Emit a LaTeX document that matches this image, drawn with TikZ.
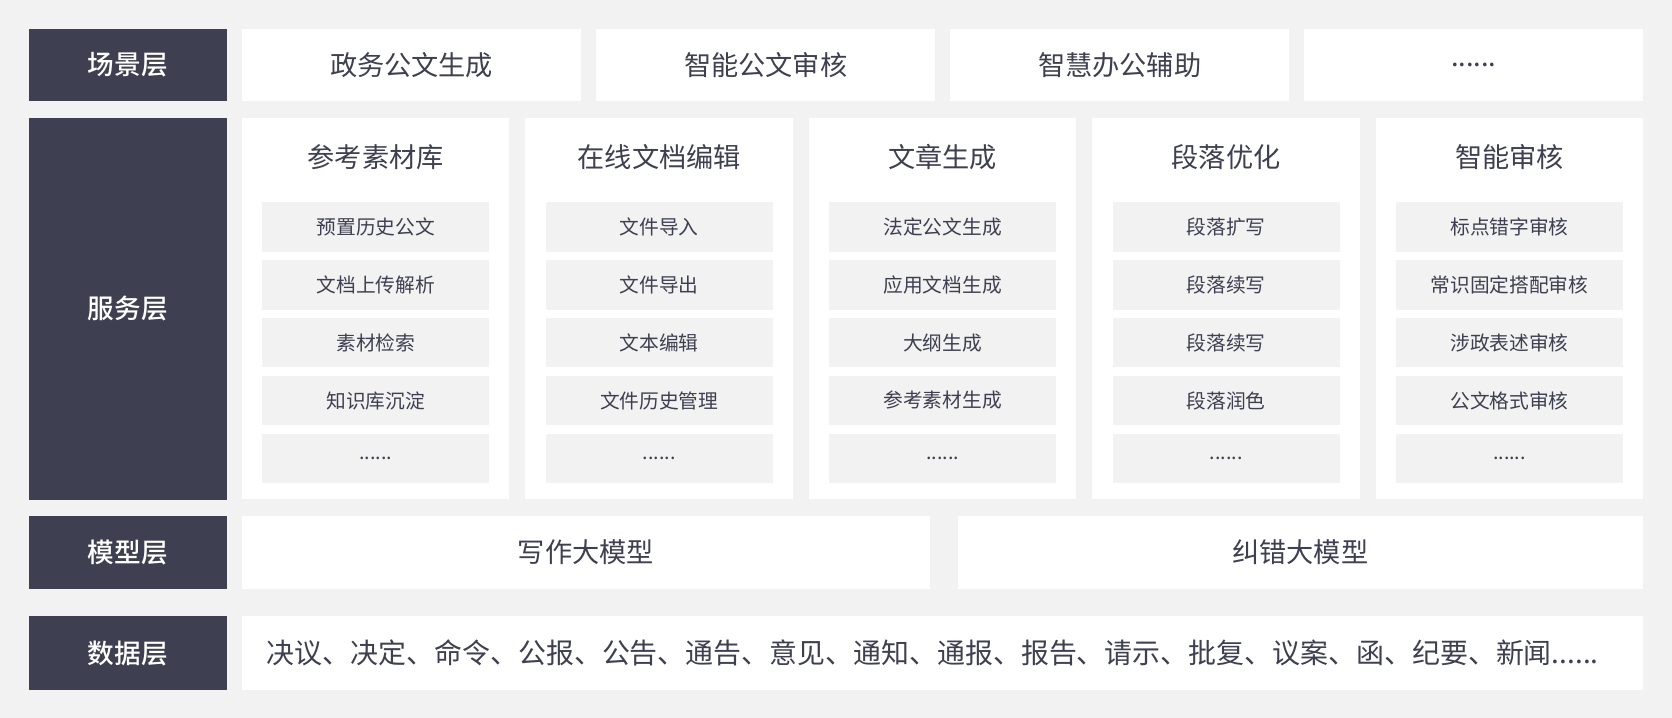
\documentclass[tikz,border=0pt]{standalone}
\usepackage{fontspec}
\setmainfont{Noto Sans CJK SC}
\newfontfamily\medfont{Noto Sans CJK SC}[UprightFont={* Medium}]
\definecolor{dark}{HTML}{3E3F50}
\definecolor{bg}{HTML}{F2F2F2}
\definecolor{txt}{HTML}{3E3F50}
\newcommand{\sixdots}{......}
\begin{document}
\begin{tikzpicture}[x=1pt,y=-1pt,
  box/.style={anchor=north west, inner sep=0pt, outer sep=0pt, draw=none},
  lab/.style={box, fill=dark, text=white, minimum width=186pt, font=\medfont\fontsize{25}{25}\selectfont},
  wbox/.style={box, fill=white, text=txt, font=\fontsize{25.5}{25.5}\selectfont},
  colbox/.style={box, fill=white, minimum width=250.8pt, minimum height=357pt},
  coltitle/.style={text=txt, inner sep=0pt, font=\fontsize{25.5}{25.5}\selectfont},
  subitem/.style={box, fill=bg, text=txt, minimum width=212.8pt, minimum height=46.6pt, font=\fontsize{18.5}{18.5}\selectfont}
]
\useasboundingbox[fill=bg] (0,0) rectangle (1568,673);

% labels
\node[lab, minimum height=68pt] (lab1) at (27,27) {场景层};
\node[lab, minimum height=357.5pt] (lab2) at (27,111) {服务层};
\node[lab, minimum height=68.5pt] (lab3) at (27,484) {模型层};
\node[lab, minimum height=69pt] (lab4) at (27,578) {数据层};

% scene layer
\foreach \t [count=\i] in {政务公文生成,智能公文审核,智慧办公辅助,\sixdots}{
  \node[wbox, minimum width=318pt, minimum height=68pt] (sc\i) at ({227+(\i-1)*332},27) {\t};
}

% service layer columns
\newcommand{\svccol}[3]{%
  \node[colbox] (col#1) at ({227+(#1-1)*265.8},111) {};
  \node[coltitle] (title#1) at ({227+(#1-1)*265.8+125.4},147) {#2};
  \foreach \s [count=\j] in {#3}{
    \node[subitem] (col#1-\j) at ({227+(#1-1)*265.8+19},{189.4+(\j-1)*54.3}) {\s};
  }%
}
\svccol{1}{参考素材库}{预置历史公文,文档上传解析,素材检索,知识库沉淀,\sixdots}
\svccol{2}{在线文档编辑}{文件导入,文件导出,文本编辑,文件历史管理,\sixdots}
\svccol{3}{文章生成}{法定公文生成,应用文档生成,大纲生成,参考素材生成,\sixdots}
\svccol{4}{段落优化}{段落扩写,段落续写,段落续写,段落润色,\sixdots}
\svccol{5}{智能审核}{标点错字审核,常识固定搭配审核,涉政表述审核,公文格式审核,\sixdots}

% model layer
\node[wbox, minimum width=645pt, minimum height=68.5pt] (m1) at (227,484) {写作大模型};
\node[wbox, minimum width=643pt, minimum height=68.5pt] (m2) at (898,484) {纠错大模型};

% data layer
\node[wbox, minimum width=1314pt, minimum height=69pt] (data) at (227,578) {};
\node[text=txt, anchor=west, inner sep=0pt, font=\fontsize{26.2}{26.2}\selectfont] (datatext) at (250,612.5) {决议、决定、命令、公报、公告、通告、意见、通知、通报、报告、请示、批复、议案、函、纪要、新闻\sixdots};
\end{tikzpicture}
\end{document}
